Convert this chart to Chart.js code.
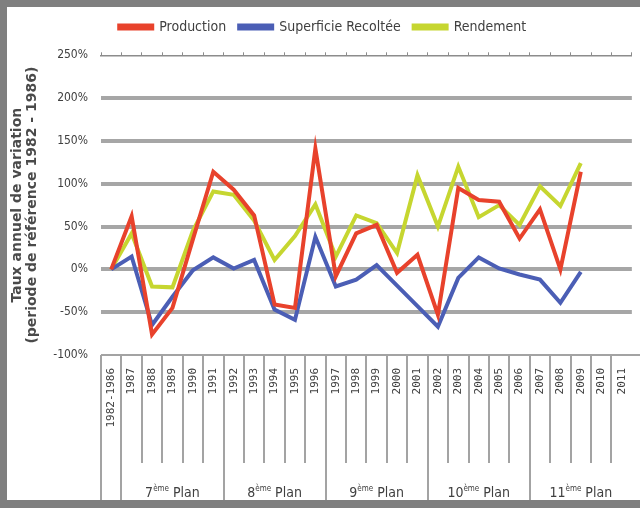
<!DOCTYPE html>
<html>
<head>
<meta charset="utf-8">
<script src="https://cdn.jsdelivr.net/npm/chart.js@4.4.1/dist/chart.umd.min.js"></script>
<style>
html, body { margin: 0; padding: 0; background: #fff; }
#frame {
    position: relative; width: 640px; height: 508px; box-sizing: border-box;
    border-left: 7px solid #7f7f7f; border-top: 7px solid #7f7f7f; border-bottom: 8px solid #7f7f7f;
    background: #fff;
}
#wrap { position: absolute; left: 0; top: 0; width: 633px; height: 493px; }
</style>
</head>
<body>
<div id="frame"><div id="wrap"><canvas id="chart"></canvas></div></div>
<script>
// données (en %)
const years = ['1982-1986', '1987', '1988', '1989', '1990', '1991', '1992', '1993', '1994', '1995',
    '1996', '1997', '1998', '1999', '2000', '2001', '2002', '2003', '2004', '2005',
    '2006', '2007', '2008', '2009', '2010', '2011'];
const production = [0, 62, -76, -45, 35, 114, 93, 63, -41, -45, 141, -8, 42, 52, -4, 17, -53, 95, 81, 79, 36, 70, 0, 114, null, null];
const superficie = [0, 15, -65, -32, -1, 14, 1, 11, -47, -59, 38, -20, -12, 5, -19, -43, -67, -10, 14, 1, -6, -12, -39, -3, null, null];
const rendement = [0, 42, -20, -21, 45, 91, 87, 57, 11, 39, 76, 15, 63, 54, 19, 110, 50, 120, 61, 75, 52, 97, 74, 124, null, null];

// plans quinquennaux (tableau sous l'axe)
const planNumbers = ['7', '8', '9', '10', '11'];
const planFirstYear = ['1987', '1992', '1997', '2002', '2007'];
const planLastYear = ['1991', '1996', '2001', '2006', '2011'];

const yMin = -100, yMax = 250, yStep = 50;

const GRID = '#a6a6a6';
const TABLE = '#a3a3a3';
const TEXT = '#404040';
const NARROW = "'Liberation Sans Narrow', 'DejaVu Sans Condensed', sans-serif";

// hauteur fixe de la légende
const legendHeight = {
    id: 'legendHeight',
    beforeInit(chart) {
        const fit = chart.legend.fit;
        chart.legend.fit = function () {
            fit.call(this);
            this.height = 44;
        };
    }
};

// tableau des années + plans sous le graphique
const planTable = {
    id: 'planTable',
    afterDraw(chart) {
        const ctx = chart.ctx;
        const x = chart.scales.x;
        const top = chart.chartArea.bottom;
        const bottom = chart.height;
        const colW = x.width / years.length;
        const edge = i => x.getPixelForValue(i) - colW / 2;
        const yearsBottom = top + 108;

        ctx.save();
        ctx.strokeStyle = TABLE;
        ctx.lineWidth = 2;
        ctx.beginPath();
        ctx.moveTo(edge(0), top);
        ctx.lineTo(chart.width, top);
        ctx.stroke();

        const fullEdges = planFirstYear.map(y => years.indexOf(y));
        for (let i = 0; i < years.length; i++) {
            const px = Math.round(edge(i));
            const full = i === 0 || fullEdges.includes(i);
            ctx.beginPath();
            ctx.moveTo(px, top);
            ctx.lineTo(px, full ? bottom : yearsBottom);
            ctx.stroke();
        }

        ctx.fillStyle = TEXT;
        ctx.textBaseline = 'alphabetic';
        const base = '14px ' + NARROW;
        const sup = '8px ' + NARROW;
        planNumbers.forEach((n, k) => {
            const a = years.indexOf(planFirstYear[k]);
            const b = years.indexOf(planLastYear[k]);
            const cx = (edge(a) + edge(b + 1)) / 2;
            ctx.font = base;
            const w1 = ctx.measureText(n).width;
            const w3 = ctx.measureText(' Plan').width;
            ctx.font = sup;
            const w2 = ctx.measureText('ème').width;
            let px = cx - (w1 + w2 + w3) / 2;
            const py = bottom - 3;
            ctx.font = base;
            ctx.fillText(n, px, py);
            px += w1;
            ctx.font = sup;
            ctx.fillText('ème', px, py - 6);
            px += w2;
            ctx.font = base;
            ctx.fillText(' Plan', px, py);
        });
        ctx.restore();
    }
};

const lineDataset = (label, data, color) => ({
    label: label,
    data: data,
    borderColor: color,
    backgroundColor: color,
    borderWidth: 4,
    pointRadius: 0,
    tension: 0,
    spanGaps: false
});

new Chart(document.getElementById('chart'), {
    type: 'line',
    data: {
        labels: years,
        datasets: [
            lineDataset('Production', production, '#e8422c'),
            lineDataset('Superficie Recoltée', superficie, '#4b5eb5'),
            lineDataset('Rendement', rendement, '#c6d630')
        ]
    },
    options: {
        responsive: true,
        maintainAspectRatio: false,
        animation: false,
        layout: { padding: { left: 0, right: 1.6, top: 0, bottom: 0 } },
        plugins: {
            legend: {
                position: 'top',
                labels: {
                    boxWidth: 33,
                    boxHeight: 3,
                    padding: 13,
                    color: TEXT,
                    font: { family: NARROW, size: 14 }
                }
            },
            tooltip: { enabled: false }
        },
        scales: {
            x: {
                type: 'category',
                position: 'bottom',
                offset: true,
                grid: { display: false, offset: true },
                border: { display: false },
                ticks: {
                    autoSkip: false,
                    minRotation: 90,
                    maxRotation: 90,
                    padding: 5,
                    color: TEXT,
                    font: { family: "'DejaVu Sans Mono', monospace", size: 11 }
                },
                afterFit(s) { s.height = 145; }
            },
            x2: {
                type: 'category',
                position: 'top',
                labels: years,
                offset: true,
                grid: { offset: true, drawOnChartArea: false, tickLength: 3, color: '#8c8c8c' },
                border: { color: '#8c8c8c', width: 1.5 },
                ticks: { display: false },
                afterFit(s) { s.height = 4.3; }
            },
            y: {
                min: yMin,
                max: yMax,
                border: { display: false },
                grid: {
                    drawTicks: false,
                    lineWidth: 4,
                    color: c => (c.tick.value === yMin || c.tick.value === yMax) ? 'rgba(0,0,0,0)' : GRID
                },
                ticks: {
                    stepSize: yStep,
                    padding: 13,
                    color: TEXT,
                    font: { family: NARROW, size: 12 },
                    callback: v => v + '%'
                },
                title: {
                    display: true,
                    text: ['Taux annuel de variation', '(periode de référence 1982 - 1986)'],
                    color: '#4a4a4a',
                    font: { family: "'DejaVu Sans', sans-serif", size: 14, weight: 'bold', lineHeight: 1.08 },
                    padding: { top: 3, bottom: 0 }
                },
                afterFit(s) { s.width = 94; }
            }
        }
    },
    plugins: [legendHeight, planTable]
});
</script>
</body>
</html>
